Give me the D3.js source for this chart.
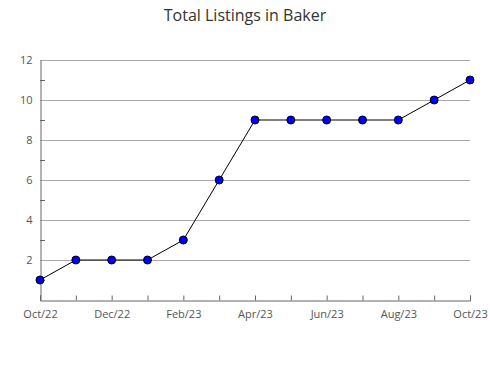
<!DOCTYPE html>
<html>
<head>
<meta charset="utf-8">
<script src="https://cdn.jsdelivr.net/npm/d3@7"></script>
<style>
  body { margin: 0; background: #fff; }
  text { font-family: "Open Sans", sans-serif; }
</style>
</head>
<body>
<div id="chart"></div>
<script>
var months = ["Oct/22", "Nov/22", "Dec/22", "Jan/23", "Feb/23", "Mar/23", "Apr/23",
              "May/23", "Jun/23", "Jul/23", "Aug/23", "Sep/23", "Oct/23"];
var listings = [1, 2, 2, 2, 3, 6, 9, 9, 9, 9, 9, 10, 11];
var yTicks = [2, 4, 6, 8, 10, 12];
var yMinor = [1, 3, 5, 7, 9, 11];

var width = 490, height = 380;
var margin = {top: 60, right: 20, bottom: 80, left: 40};
var w = width - margin.left - margin.right,
    h = height - margin.top - margin.bottom;

var svg = d3.select("#chart").append("svg")
    .attr("width", width)
    .attr("height", height);

svg.append("text")
    .attr("x", width / 2)
    .attr("y", 21)
    .attr("text-anchor", "middle")
    .style("font-size", "16px")
    .style("fill", "#333")
    .text("Total Listings in Baker");

var g = svg.append("g")
    .attr("transform", "translate(" + margin.left + "," + margin.top + ")");

var x = d3.scalePoint().domain(months).range([0, w]),
    y = d3.scaleLinear().domain([0, 12]).range([h, 0]);

// grid lines
g.append("g")
    .selectAll("line")
    .data(yTicks)
    .enter().append("line")
    .attr("x1", 0)
    .attr("x2", w)
    .attr("y1", function(d) { return y(d) + 0.5; })
    .attr("y2", function(d) { return y(d) + 0.5; })
    .attr("stroke", "#aaa");

// minor y ticks
g.append("g")
    .selectAll("line")
    .data(yMinor)
    .enter().append("line")
    .attr("x1", 0)
    .attr("x2", 5)
    .attr("y1", function(d) { return y(d) + 0.5; })
    .attr("y2", function(d) { return y(d) + 0.5; })
    .attr("stroke", "#666");

var yAxis = d3.axisLeft(y).tickValues(yTicks).tickSize(0).tickPadding(8);
var yg = g.append("g")
    .attr("transform", "translate(0.5,0)")
    .call(yAxis);
yg.select(".domain").attr("stroke", "#666");
yg.selectAll("text").style("font-size", "11px").style("fill", "#555");

var xAxis = d3.axisBottom(x).tickSize(-5).tickPadding(10)
    .tickFormat(function(d, i) { return i % 2 === 0 ? d : ""; });
var xg = g.append("g")
    .attr("transform", "translate(0," + (h + 0.5) + ")")
    .call(xAxis);
xg.select(".domain").attr("stroke", "#666");
xg.selectAll(".tick line").attr("stroke", "#666");
xg.selectAll("text").style("font-size", "11px").style("fill", "#555");

var line = d3.line()
    .x(function(d, i) { return x(months[i]); })
    .y(function(d) { return y(d); });

g.append("path")
    .datum(listings)
    .attr("fill", "none")
    .attr("stroke", "#000")
    .attr("stroke-width", 1)
    .attr("d", line);

g.append("g")
    .selectAll("circle")
    .data(listings)
    .enter().append("circle")
    .attr("cx", function(d, i) { return x(months[i]); })
    .attr("cy", function(d) { return y(d); })
    .attr("r", 4)
    .attr("fill", "#0000ff")
    .attr("stroke", "#000")
    .attr("stroke-width", 1);
</script>
</body>
</html>
